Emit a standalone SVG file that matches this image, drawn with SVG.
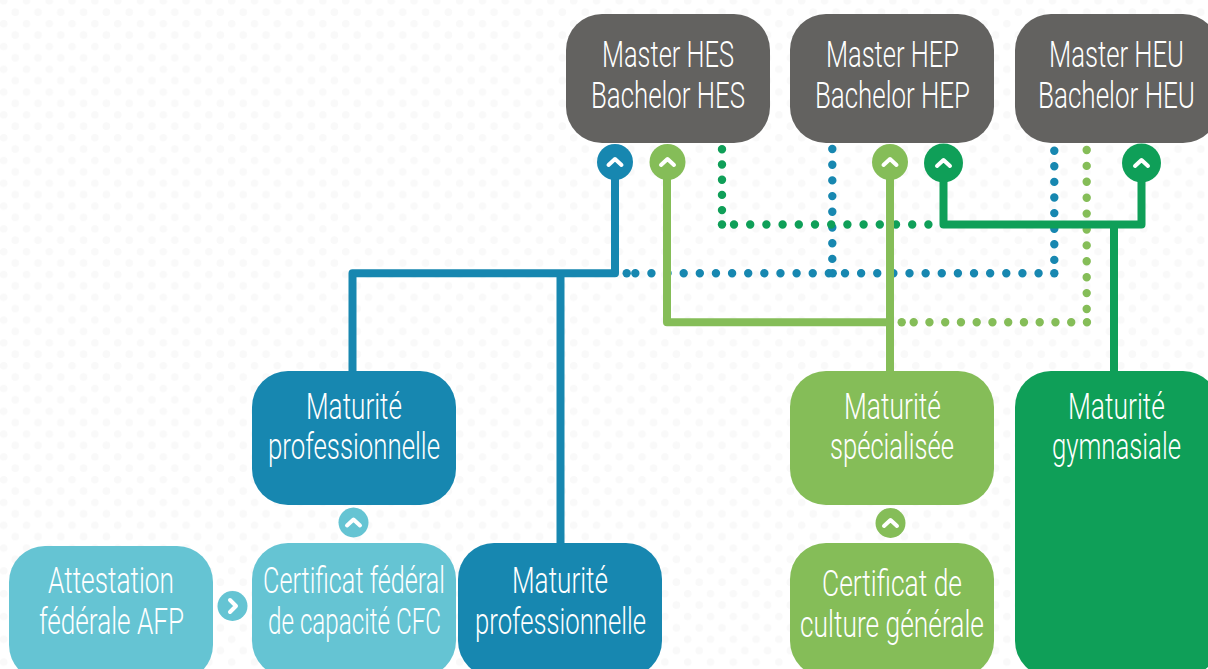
<svg xmlns="http://www.w3.org/2000/svg" xmlns:xlink="http://www.w3.org/1999/xlink" width="1208" height="669" viewBox="0 0 1208 669">
<style>
.t{font-family:"Roboto","Liberation Sans",sans-serif;font-weight:300;font-size:36px;fill:#fff;text-anchor:middle}
.s{fill:none;stroke-width:8;stroke-linecap:round;stroke-linejoin:round}
.d{fill:none;stroke-width:8.4;stroke-linecap:round}
.blue{stroke:#1787b0}.lg{stroke:#85bd58}.dg{stroke:#0f9f58}
.fblue{fill:#1787b0}.flg{fill:#85bd58}.fdg{fill:#0f9f58}.fcy{fill:#65c4d3}.fgr{fill:#636260}
.ch{fill:none;stroke:#fff;stroke-width:4;stroke-linecap:round;stroke-linejoin:round}
</style>
<defs>
<pattern id="bg" x="-2" y="-4.8" width="22.8" height="22.8" patternUnits="userSpaceOnUse">
<circle cx="5.7" cy="5.7" r="3.8" fill="#f9f9f9"/><circle cx="17.2" cy="17" r="3.8" fill="#f9f9f9"/>
</pattern>
<polyline id="up" class="ch" points="-6.5,3 0,-3 6.5,3"/>
<polyline id="right" class="ch" points="-2.5,-6 3.5,0 -2.5,6"/>
</defs>
<rect width="1208" height="669" fill="#fff"/>
<rect width="1208" height="669" fill="url(#bg)"/>
<g id="connectors">
<path class="d blue" stroke-dasharray="0 15.7" d="M832.3 149V273.3"/>
<path class="d blue" stroke-dasharray="0 15.6" d="M1054.3 150.7V273.3"/>
<path class="d blue" stroke-dasharray="0 16.13" d="M635.3 273.3H1039"/>
<path class="d blue" stroke-dasharray="0 50" d="M626.7 273.3H630"/>
<path class="d blue" stroke-dasharray="0 50" d="M832.7 273.3H835"/>
<path class="d blue" stroke-dasharray="0 50" d="M1054.3 273.3H1056"/>
<path class="d lg" stroke-dasharray="0 15.9" d="M1086.7 150V322.3"/>
<path class="d lg" stroke-dasharray="0 15.75" d="M913.7 322.3H1087.5"/>
<path class="d lg" stroke-dasharray="0 50" d="M901.7 322.3H904"/>
<path class="d dg" stroke-dasharray="0 15.2" d="M722 149.3V225"/>
<path class="d dg" stroke-dasharray="0 16.2" d="M734 224.5H930"/>
<path class="d dg" stroke-dasharray="0 50" d="M722 224.5H724"/>
<path class="s lg" d="M667 162V322.3H890M890 162V375"/>
<path class="s blue" d="M615 162V273.3H352.5V375M560.5 273.3V547"/>
<path class="s dg" d="M943.5 163V224.5H1141.5V163M1114 224.5V375"/>
</g>
<g id="master-hes"><rect class="fgr" x="566" y="14" width="204" height="129" rx="36"/><text class="t" x="668" y="67" textLength="132" lengthAdjust="spacingAndGlyphs">Master HES</text><text class="t" x="668" y="108" textLength="154" lengthAdjust="spacingAndGlyphs">Bachelor HES</text></g>
<g id="master-hep"><rect class="fgr" x="790" y="14" width="204" height="129" rx="36"/><text class="t" x="892.5" y="67" textLength="133" lengthAdjust="spacingAndGlyphs">Master HEP</text><text class="t" x="892.5" y="108" textLength="155" lengthAdjust="spacingAndGlyphs">Bachelor HEP</text></g>
<g id="master-heu"><rect class="fgr" x="1015" y="14" width="204" height="129" rx="36"/><text class="t" x="1116.5" y="67" textLength="135" lengthAdjust="spacingAndGlyphs">Master HEU</text><text class="t" x="1116.5" y="108" textLength="157" lengthAdjust="spacingAndGlyphs">Bachelor HEU</text></g>
<g id="maturite-pro-1"><rect class="fblue" x="252" y="371" width="204" height="134" rx="36"/><text class="t" x="354" y="419" textLength="96" lengthAdjust="spacingAndGlyphs">Maturité</text><text class="t" x="354" y="459" textLength="172" lengthAdjust="spacingAndGlyphs">professionnelle</text></g>
<g id="maturite-specialisee"><rect class="flg" x="790" y="371" width="204" height="134" rx="36"/><text class="t" x="892.5" y="419" textLength="97" lengthAdjust="spacingAndGlyphs">Maturité</text><text class="t" x="892" y="459" textLength="124" lengthAdjust="spacingAndGlyphs">spécialisée</text></g>
<g id="maturite-gym"><rect class="fdg" x="1015" y="371" width="204" height="306" rx="36"/><text class="t" x="1116.5" y="419" textLength="97" lengthAdjust="spacingAndGlyphs">Maturité</text><text class="t" x="1116.5" y="459" textLength="129" lengthAdjust="spacingAndGlyphs">gymnasiale</text></g>
<g id="attestation"><rect class="fcy" x="9" y="546" width="204" height="135" rx="36"/><text class="t" x="111" y="593" textLength="126" lengthAdjust="spacingAndGlyphs">Attestation</text><text class="t" x="111.5" y="634" textLength="145" lengthAdjust="spacingAndGlyphs">fédérale AFP</text></g>
<g id="cfc"><rect class="fcy" x="252" y="543" width="204" height="134" rx="36"/><text class="t" x="354" y="593" textLength="182" lengthAdjust="spacingAndGlyphs">Certificat fédéral</text><text class="t" x="354.5" y="634" textLength="173" lengthAdjust="spacingAndGlyphs">de capacité CFC</text></g>
<g id="maturite-pro-2"><rect class="fblue" x="458" y="543" width="204" height="134" rx="36"/><text class="t" x="560" y="593" textLength="96" lengthAdjust="spacingAndGlyphs">Maturité</text><text class="t" x="560.5" y="634" textLength="171" lengthAdjust="spacingAndGlyphs">professionnelle</text></g>
<g id="ccg"><rect class="flg" x="790" y="543" width="204" height="134" rx="36"/><text class="t" x="892" y="596" textLength="140" lengthAdjust="spacingAndGlyphs">Certificat de</text><text class="t" x="892" y="637" textLength="184" lengthAdjust="spacingAndGlyphs">culture générale</text></g>
<g id="arrow-1"><circle class="fblue" cx="615" cy="162" r="18"/><use xlink:href="#up" href="#up" x="615" y="162"/></g>
<g id="arrow-2"><circle class="flg" cx="667.5" cy="162" r="18"/><use xlink:href="#up" href="#up" x="667.5" y="162"/></g>
<g id="arrow-3"><circle class="flg" cx="890" cy="162" r="18"/><use xlink:href="#up" href="#up" x="890" y="162"/></g>
<g id="arrow-4"><circle class="fdg" cx="943.5" cy="163" r="19.5"/><use xlink:href="#up" href="#up" x="943.5" y="163"/></g>
<g id="arrow-5"><circle class="fdg" cx="1141.5" cy="163" r="19.5"/><use xlink:href="#up" href="#up" x="1141.5" y="163"/></g>
<g id="arrow-6"><circle class="fcy" cx="353.5" cy="522.5" r="15"/><use xlink:href="#up" href="#up" x="353.5" y="522.5"/></g>
<g id="arrow-7"><circle class="fcy" cx="232.5" cy="606" r="15"/><use xlink:href="#right" href="#right" x="232.5" y="606"/></g>
<g id="arrow-8"><circle class="flg" cx="890.5" cy="523" r="15"/><use xlink:href="#up" href="#up" x="890.5" y="523"/></g>
</svg>
